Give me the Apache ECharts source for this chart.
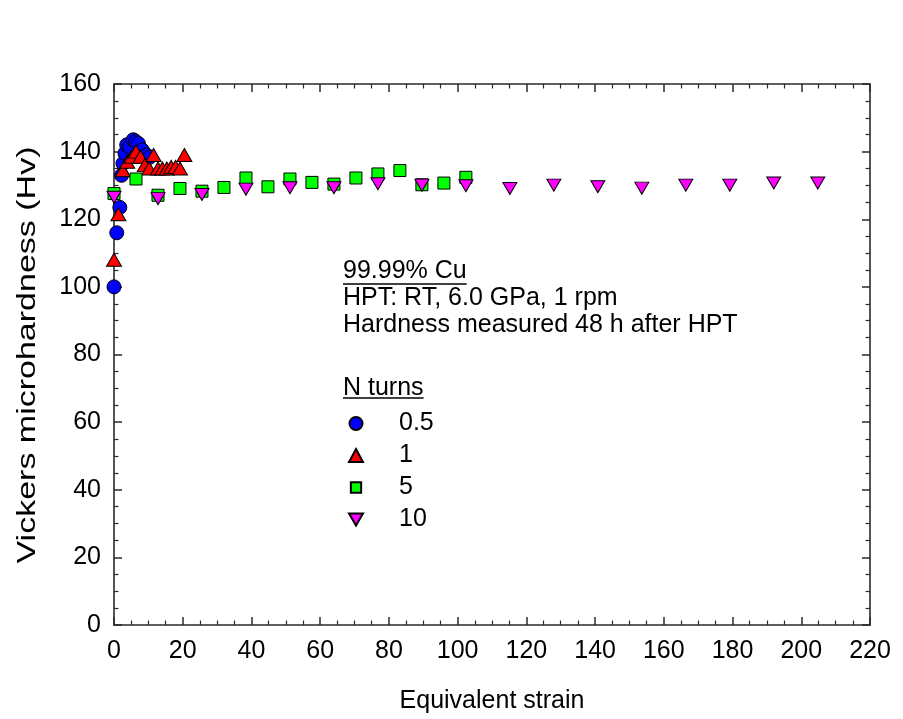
<!DOCTYPE html>
<html>
<head>
<meta charset="utf-8">
<title>Vickers microhardness vs equivalent strain, HPT Cu</title>
<script src="https://cdn.jsdelivr.net/npm/echarts@6/dist/echarts.min.js"></script>
<style>
  html, body { margin: 0; padding: 0; background: #ffffff; }
  #chart { width: 903px; height: 719px; }
</style>
</head>
<body>
<div id="chart"></div>
<script>
// ---- data: equivalent strain (x) and Vickers microhardness Hv (y) per number of turns ----
const turnLabels = ['0.5', '1', '5', '10'];

const strainN05 = [0, 0.8, 1.7, 2.2, 2.6, 3.2, 3.7, 4.5, 5.6, 6.3, 7.1, 8.2, 9.5, 10.3];
const hvN05     = [100, 116, 123.5, 133, 136.5, 139.5, 142, 141.5, 143.5, 143, 142.4, 140.5, 139, 138.3];

const strainN1 = [0, 1.28, 2.56, 3.84, 5.12, 6.4, 7.68, 8.96, 10.24, 11.52, 12.8, 14.08, 15.36, 16.64, 17.92, 19.2, 20.48];
const hvN1     = [108, 121.5, 134.5, 137, 138.5, 140, 138.5, 136, 135, 139, 135, 135, 135, 135.5, 135.5, 135, 139];

const strainN5 = [0, 6.4, 12.8, 19.2, 25.6, 32, 38.4, 44.8, 51.2, 57.6, 64, 70.4, 76.8, 83.2, 89.6, 96, 102.4];
const hvN5     = [127.6, 131.9, 127.1, 129.1, 128.3, 129.4, 132.2, 129.6, 131.9, 130.9, 130.4, 132.2, 133.4, 134.4, 130.2, 130.7, 132.4];

const strainN10 = [0, 12.8, 25.6, 38.4, 51.2, 64, 76.8, 89.6, 102.4, 115.2, 128, 140.8, 153.6, 166.4, 179.2, 192, 204.8];
const hvN10     = [126.5, 126.1, 127.3, 128.9, 129.3, 129.3, 130.5, 130.1, 129.9, 129.1, 130.1, 129.6, 129.2, 130.1, 130.1, 130.7, 130.7];

// axis ranges and tick spacing
const xRange = [0, 220], xStep = 20;
const yRange = [0, 160], yStep = 20;

// axis titles and annotation text
const xTitle = 'Equivalent strain';
const yTitle = 'Vickers microhardness (Hv)';
const sampleTitle = '99.99% Cu';
const processLines = ['HPT: RT, 6.0 GPa, 1 rpm', 'Hardness measured 48 h after HPT'];
const legendTitle = 'N turns';

// ---- styling ----
const FONT = "'Liberation Sans', Arial, Helvetica, sans-serif";
const FS = 25;
const AXIS_COLOR = '#2a2a2a';
const DOWN_TRIANGLE = 'path://M0,0L12,0L6,10.4Z';
const LEGEND_SQUARE = 'path://M-0.7,-0.7M10.7,10.7M0.5,0.5L9.5,0.5L9.5,9.5L0.5,9.5Z';

const zip = (xs, ys) => xs.map((x, i) => [x, ys[i]]);

function textWidth(str, size) {
  const ctx = document.createElement('canvas').getContext('2d');
  ctx.font = size + 'px ' + FONT;
  return ctx.measureText(str).width;
}

const chart = echarts.init(document.getElementById('chart'), null, { renderer: 'canvas' });

const grid = { left: 114, top: 84, width: 756, height: 542 };

const tickCommon = {
  axisLine: { show: true, onZero: false, lineStyle: { color: AXIS_COLOR, width: 1.6 } },
  axisTick: { show: true, inside: true, length: 8, lineStyle: { color: AXIS_COLOR, width: 1.5 } },
  minorTick: { show: true, splitNumber: 4, length: 4.5, lineStyle: { color: AXIS_COLOR, width: 1.2 } },
  splitLine: { show: false },
  minorSplitLine: { show: false }
};

const labelStyle = { color: '#000', fontFamily: FONT, fontSize: FS };

function scatter(name, data, symbol, size, color) {
  return {
    name, type: 'scatter', data, symbol, symbolSize: size,
    xAxisIndex: 0, yAxisIndex: 0,
    itemStyle: { color, opacity: 1, borderColor: '#000', borderWidth: 1 },
    emphasis: { disabled: true },
    animation: false
  };
}

// annotation block, underlined headings, rotated y title
const textX = 343;
const graphics = [];
function addText(str, y) {
  graphics.push({
    type: 'text', x: textX, y, silent: true,
    style: { text: str, fill: '#000', font: FS + 'px ' + FONT, verticalAlign: 'middle', align: 'left' }
  });
}
function addUnderline(str, y) {
  graphics.push({
    type: 'line', silent: true,
    shape: { x1: textX, y1: y, x2: textX + textWidth(str, FS), y2: y },
    style: { stroke: '#000', lineWidth: 1.5 }
  });
}
addText(sampleTitle, 271);
addUnderline(sampleTitle, 284);
processLines.forEach((s, i) => addText(s, 298 + i * 27.5));
addText(legendTitle, 388);
addUnderline(legendTitle, 398);

graphics.push({
  type: 'text', silent: true,
  x: 28, y: 355, rotation: Math.PI / 2, scaleX: 1.36,
  style: { text: yTitle, fill: '#000', font: FS + 'px ' + FONT, align: 'center', verticalAlign: 'middle' }
});

chart.setOption({
  backgroundColor: '#ffffff',
  animation: false,
  textStyle: { fontFamily: FONT },
  grid,
  xAxis: [
    Object.assign({
      type: 'value', position: 'bottom', min: xRange[0], max: xRange[1], interval: xStep,
      axisLabel: Object.assign({ margin: 14 }, labelStyle),
      name: xTitle, nameLocation: 'middle', nameGap: 64,
      nameTextStyle: labelStyle
    }, tickCommon),
    Object.assign({
      type: 'value', position: 'top', min: xRange[0], max: xRange[1], interval: xStep,
      axisLabel: { show: false }
    }, tickCommon)
  ],
  yAxis: [
    Object.assign({
      type: 'value', position: 'left', min: yRange[0], max: yRange[1], interval: yStep,
      axisLabel: Object.assign({ margin: 13 }, labelStyle)
    }, tickCommon),
    Object.assign({
      type: 'value', position: 'right', min: yRange[0], max: yRange[1], interval: yStep,
      axisLabel: { show: false }
    }, tickCommon)
  ],
  legend: {
    orient: 'vertical', left: 348, top: 411, padding: 0,
    itemWidth: 14, itemHeight: 13, itemGap: 7,
    selectedMode: false,
    textStyle: Object.assign({ padding: [0, 0, 0, 31], lineHeight: 25 }, labelStyle),
    data: [
      { name: turnLabels[0], icon: 'circle' },
      { name: turnLabels[1], icon: 'triangle' },
      { name: turnLabels[2], icon: LEGEND_SQUARE },
      { name: turnLabels[3], icon: DOWN_TRIANGLE }
    ]
  },
  series: [
    scatter(turnLabels[0], zip(strainN05, hvN05), 'circle', 14, '#0000ff'),
    scatter(turnLabels[1], zip(strainN1, hvN1), 'triangle', [15, 13], '#ff0000'),
    scatter(turnLabels[2], zip(strainN5, hvN5), 'rect', 12, '#00ff00'),
    scatter(turnLabels[3], zip(strainN10, hvN10), DOWN_TRIANGLE, [14, 12], '#ff00ff')
  ],
  graphic: graphics
});
</script>
</body>
</html>
